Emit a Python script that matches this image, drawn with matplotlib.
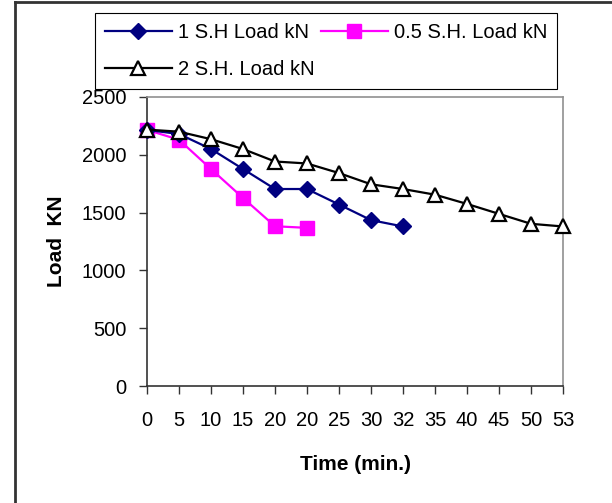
import matplotlib
matplotlib.use("Agg")
import matplotlib.pyplot as plt
from matplotlib.lines import Line2D

plt.rcParams['font.family'] = ['Liberation Sans', 'DejaVu Sans']

time_labels = ["0", "5", "10", "15", "20", "20", "25", "30", "32", "35", "40", "45", "50", "53"]
load_1sh = [2215, 2180, 2050, 1877, 1704, 1704, 1570, 1435, 1380]
load_05sh = [2215, 2130, 1877, 1627, 1382, 1368]
load_2sh = [2218, 2200, 2135, 2050, 1942, 1925, 1842, 1745, 1704, 1655, 1575, 1489, 1403, 1380]
y_ticks = [0, 500, 1000, 1500, 2000, 2500]

W, H = 612, 503
fig = plt.figure(figsize=(W / 100, H / 100), dpi=100)
ax = fig.add_axes([147 / W, 1 - 386 / H, (563 - 147) / W, (386 - 97) / H])

xi = list(range(len(time_labels)))
l1, = ax.plot(xi[:len(load_1sh)], load_1sh, color='#000080', lw=1.6, marker='D', ms=8,
              mfc='#000080', mec='#000080', label='1 S.H Load kN', clip_on=False, zorder=3)
l2, = ax.plot(xi[:len(load_05sh)], load_05sh, color='#FF00FF', lw=1.6, marker='s', ms=9.5,
              mfc='#FF00FF', mec='#FF00FF', label='0.5 S.H. Load kN', clip_on=False, zorder=2)
l3, = ax.plot(xi, load_2sh, color='black', lw=1.6, marker='^', ms=10,
              mfc='white', mec='black', mew=1.6, label='2 S.H. Load kN', clip_on=False, zorder=4)

ax.set_xlim(0, len(time_labels) - 1)
ax.set_ylim(0, 2500)
ax.set_xticks(xi)
ax.set_xticklabels(time_labels, fontsize=14.5)
ax.set_yticks(y_ticks)
ax.set_yticklabels([str(v) for v in y_ticks], fontsize=14.5)
ax.tick_params(axis='both', direction='out', length=6, width=1, color='#333333')
ax.tick_params(axis='x', pad=12)
ax.tick_params(axis='y', pad=9)

for s in ['left', 'bottom']:
    ax.spines[s].set_color('#333333')
    ax.spines[s].set_linewidth(1.2)
for s in ['top', 'right']:
    ax.spines[s].set_color('#909090')
    ax.spines[s].set_linewidth(1.2)

ax.set_xlabel('Time (min.)', fontsize=15, fontweight='bold')
ax.set_ylabel('Load  KN', fontsize=15, fontweight='bold')
ax.xaxis.set_label_coords(0.5, (386 - 455) / 289)
ax.yaxis.set_label_coords((66 - 147) / 416, 0.5)

leg = fig.legend(handles=[l1, l3, l2], ncol=2, loc='upper left',
                 bbox_to_anchor=(95 / W, 1 - 90 / H, (557 - 95) / W, (90 - 13) / H),
                 mode='expand', borderaxespad=0, fontsize=14.5, frameon=True, fancybox=False,
                 handlelength=3.3, handletextpad=0.3, columnspacing=1.0, labelspacing=0.9,
                 borderpad=0.5, framealpha=1)
leg.get_frame().set_edgecolor('black')
leg.get_frame().set_linewidth(0.8)
leg.set_zorder(10)

# outer chart border (left and top visible)
fig.add_artist(Line2D([15 / W, 15 / W], [0, 1 - 2 / H], transform=fig.transFigure,
                      color='#333333', lw=2))
fig.add_artist(Line2D([15 / W, 1], [1 - 2 / H, 1 - 2 / H], transform=fig.transFigure,
                      color='#333333', lw=2))

fig.savefig('out.png', dpi=100)
